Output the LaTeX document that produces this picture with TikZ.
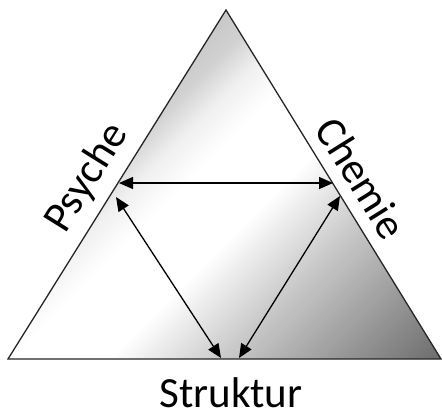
\documentclass[tikz,border=0pt]{standalone}
\usepackage{fontspec}
\setmainfont{Carlito}
\usetikzlibrary{arrows.meta}

% grey levels of the face gradient (light at the apex, white in the middle, dark at the lower right)
\definecolor{shA}{gray}{0.70}
\definecolor{shB}{gray}{0.78}
\definecolor{shC}{gray}{0.82}
\definecolor{shD}{gray}{0.94}
\definecolor{shE}{gray}{1.00}
\definecolor{shF}{gray}{0.80}
\definecolor{shG}{gray}{0.42}
\definecolor{shH}{gray}{0.36}

\pgfdeclarehorizontalshading{faceshade}{100bp}{%
  color(0bp)=(shA); color(38.8bp)=(shB); color(41.2bp)=(shC);
  color(43.8bp)=(shD); color(46.7bp)=(shE); color(52.5bp)=(shE);
  color(58.75bp)=(shF); color(72.2bp)=(shG); color(100bp)=(shH)}

\tikzset{
  edge/.style={draw=black!85, line width=1.3bp, line join=miter},
  link/.style={draw=black, line width=1.3bp,
    {Triangle[length=14bp,width=12bp]}-{Triangle[length=14bp,width=12bp]}},
  lbl/.style={inner sep=0pt, font=\fontsize{43bp}{50bp}\selectfont}
}

\begin{document}
\begin{tikzpicture}[x=1bp,y=-1bp]
\useasboundingbox (0,0) rectangle (442,412);

% corners of the triangle
\coordinate (top) at (226,10);
\coordinate (bl) at (8,359);
\coordinate (br) at (441,359);

% shaded face
\begin{scope}
  \clip (top) -- (br) -- (bl) -- cycle;
  \begin{scope}[transform canvas={rotate around={-45:(225,200)}}]
    \shade[shading=faceshade] (-75,-100) rectangle (525,500);
  \end{scope}
\end{scope}
\draw[edge] (top) -- (br) -- (bl) -- cycle;

% arrow end points
\coordinate (pl) at (119,183);
\coordinate (pr) at (333,183);
\coordinate (ql) at (116,197);
\coordinate (qb) at (221,358);
\coordinate (rr) at (340,196);
\coordinate (rb) at (239,358);

\draw[link] (pl) -- (pr);
\draw[link] (ql) -- (qb);
\draw[link] (rr) -- (rb);

% labels
\node[lbl, rotate=58, anchor=base] (psyche) at (97,184) {Psyche};
\node[lbl, rotate=-58, anchor=base] (chemie) at (349,186) {Chemie};
\node[lbl, anchor=base, text depth=0pt] (struktur) at (231,407) {Struktur};
\end{tikzpicture}
\end{document}
